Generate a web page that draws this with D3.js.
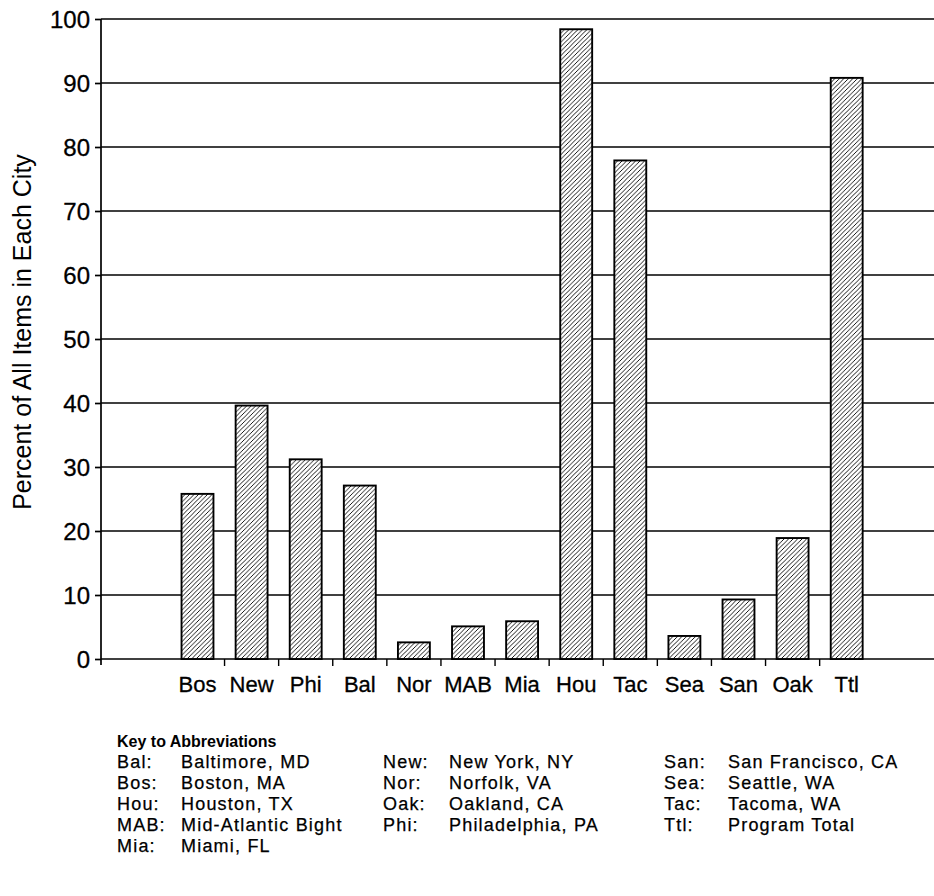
<!DOCTYPE html>
<html>
<head>
<meta charset="utf-8">
<script src="https://cdn.jsdelivr.net/npm/d3@7"></script>
<style>
  html, body { margin: 0; padding: 0; background: #fff; }
  svg { display: block; }
  text { fill: #000; }
</style>
</head>
<body>
<svg id="chart" width="934" height="896"></svg>
<script>
const categories = ["Bos","New","Phi","Bal","Nor","MAB","Mia","Hou","Tac","Sea","San","Oak","Ttl"];
const values = [25.8, 39.6, 31.2, 27.1, 2.6, 5.1, 5.9, 98.4, 77.9, 3.6, 9.3, 18.9, 90.8];
const yTicks = [0,10,20,30,40,50,60,70,80,90,100];
const yTitle = "Percent of All Items in Each City";
const keyTitle = "Key to Abbreviations";
const keyCol1 = [["Bal:","Baltimore, MD"],["Bos:","Boston, MA"],["Hou:","Houston, TX"],["MAB:","Mid-Atlantic Bight"],["Mia:","Miami, FL"]];
const keyCol2 = [["New:","New York, NY"],["Nor:","Norfolk, VA"],["Oak:","Oakland, CA"],["Phi:","Philadelphia, PA"]];
const keyCol3 = [["San:","San Francisco, CA"],["Sea:","Seattle, WA"],["Tac:","Tacoma, WA"],["Ttl:","Program Total"]];

const svg = d3.select("#chart");
const axisX = 101, plotRight = 934;
const ff = "Liberation Sans, Arial, sans-serif";

const defs = svg.append("defs");
const pat = defs.append("pattern")
  .attr("id","hatch").attr("patternUnits","userSpaceOnUse")
  .attr("width",4.5).attr("height",4.5);
pat.append("rect").attr("width",4.5).attr("height",4.5).attr("fill","#fff");
pat.append("path")
  .attr("d","M-1,1 l2,-2 M0,4.5 l4.5,-4.5 M3.5,5.5 l2,-2")
  .attr("stroke","#000").attr("stroke-width",0.9);

const y = d3.scaleLinear().domain([0,100]).range([659,19]);
const step = 54.1;
const x = d3.scaleBand().domain(categories)
  .range([170.45, 170.45 + step*categories.length])
  .paddingInner(0.41).paddingOuter(0.205);

// gridlines
svg.append("g").selectAll("line").data(yTicks).join("line")
  .attr("x1",axisX).attr("x2",plotRight)
  .attr("y1",d=>y(d)).attr("y2",d=>y(d))
  .attr("stroke","#000").attr("stroke-width",1.7);

// y axis
const yAxis = d3.axisLeft(y).tickValues(yTicks).tickSize(6).tickPadding(5);
const gy = svg.append("g").attr("transform",`translate(${axisX},0)`).call(yAxis);
gy.select(".domain").remove();
gy.selectAll(".tick line").attr("stroke","#000").attr("stroke-width",1.7);
gy.selectAll(".tick text").attr("font-family",ff)
  .attr("font-size",24).attr("fill","#000").attr("dy","0.36em")
  .attr("stroke","#000").attr("stroke-width",0.3);
svg.append("line").attr("x1",axisX).attr("x2",axisX)
  .attr("y1",y(100)).attr("y2",y(0)+6)
  .attr("stroke","#000").attr("stroke-width",1.7);

// bars
svg.append("g").selectAll("rect").data(categories).join("rect")
  .attr("x",d=>x(d)).attr("width",x.bandwidth())
  .attr("y",(d,i)=>y(values[i])).attr("height",(d,i)=>y(0)-y(values[i]))
  .attr("fill","url(#hatch)").attr("stroke","#000").attr("stroke-width",1.9);

// x ticks between categories
const bounds = categories.slice(1).map(c => x(c) - x.step()*x.paddingInner()/2);
svg.append("g").selectAll("line").data(bounds).join("line")
  .attr("x1",d=>d).attr("x2",d=>d).attr("y1",y(0)).attr("y2",y(0)+7)
  .attr("stroke","#000").attr("stroke-width",1.4);

// x labels
svg.append("g").selectAll("text").data(categories).join("text")
  .attr("x",d=>x(d)+x.bandwidth()/2).attr("y",692)
  .attr("text-anchor","middle")
  .attr("font-family",ff).attr("font-size",22)
  .attr("stroke","#000").attr("stroke-width",0.3)
  .text(d=>d);

// y title
svg.append("text")
  .attr("transform","translate(31,332) rotate(-90)")
  .attr("text-anchor","middle")
  .attr("font-family",ff).attr("font-size",25)
  .text(yTitle);

// key
svg.append("text").attr("x",117).attr("y",747)
  .attr("font-family",ff).attr("font-size",16).attr("font-weight","bold")
  .text(keyTitle);
function keyCol(data, xa, xn){
  const g = svg.append("g");
  data.forEach((d,i)=>{
    const yy = 768 + i*21;
    g.append("text").attr("x",xa).attr("y",yy).attr("font-family",ff)
      .attr("font-size",18).attr("letter-spacing",1.2)
      .attr("stroke","#000").attr("stroke-width",0.25).text(d[0]);
    g.append("text").attr("x",xn).attr("y",yy).attr("font-family",ff)
      .attr("font-size",18).attr("letter-spacing",1.2)
      .attr("stroke","#000").attr("stroke-width",0.25).text(d[1]);
  });
}
keyCol(keyCol1,117,181);
keyCol(keyCol2,383,449);
keyCol(keyCol3,664,728);
</script>
</body>
</html>
